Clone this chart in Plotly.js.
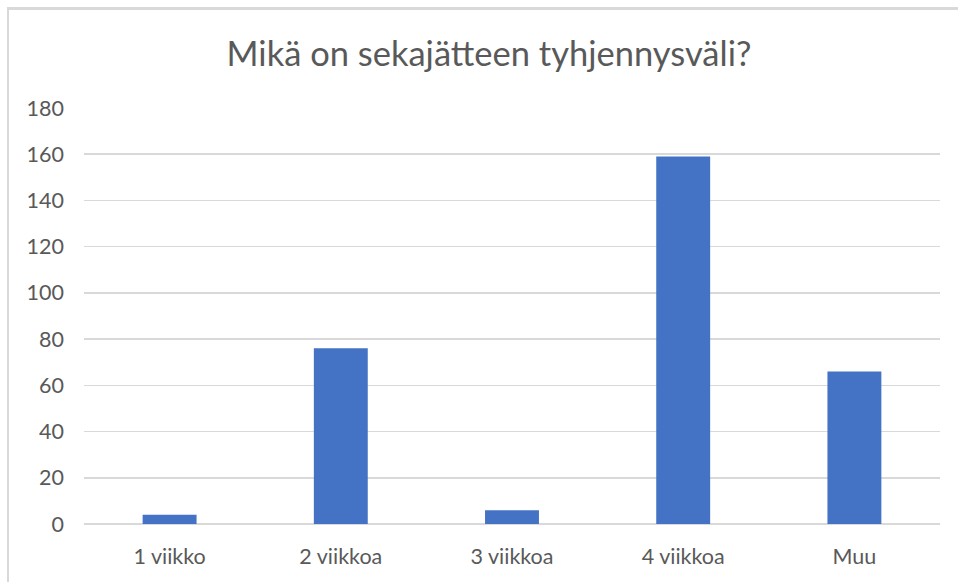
<!DOCTYPE html>
<html>
<head>
<meta charset="utf-8">
<script src="https://cdn.plot.ly/plotly-3.0.1.min.js"></script>
<style>
  html, body { margin: 0; padding: 0; background: #fff; overflow: hidden; }
  #wrap { position: relative; width: 958px; height: 582px; overflow: hidden; }
  #chart { position: absolute; left: 0; top: 0; width: 958px; height: 582px; }
  #frame { position: absolute; left: 7px; top: 7px; width: 1100px; height: 1100px;
           border-left: 2px solid #d9d9d9; border-top: 3px solid #d9d9d9; pointer-events: none; }
</style>
</head>
<body>
<div id="wrap">
  <div id="chart"></div>
  <div id="frame"></div>
</div>
<script>
const chartTitle = "Mikä on sekajätteen tyhjennysväli?";
const categories = ["1 viikko", "2 viikkoa", "3 viikkoa", "4 viikkoa", "Muu"];
const counts = [4, 76, 6, 159, 66];
const yTicks = [0, 20, 40, 60, 80, 100, 120, 140, 160, 180];

const fontFamily = "Lato, 'Open Sans', sans-serif";
const textColor = "#595959";

const data = [{
  type: "bar",
  x: categories,
  y: counts,
  marker: { color: "#4472C4" },
  hoverinfo: "x+y"
}];

const layout = {
  width: 958,
  height: 582,
  margin: { l: 84, r: 18, t: 108, b: 58, pad: 0 },
  paper_bgcolor: "#ffffff",
  plot_bgcolor: "#ffffff",
  showlegend: false,
  bargap: 0.685,
  font: { family: fontFamily, color: textColor },
  title: {
    text: chartTitle,
    font: { family: fontFamily, size: 34.5, color: textColor },
    x: 489 / 958,
    xref: "container",
    xanchor: "center",
    y: 1 - 54 / 582,
    yref: "container",
    yanchor: "middle"
  },
  xaxis: {
    type: "category",
    showgrid: false,
    zeroline: false,
    showline: false,
    ticks: "",
    ticklabelstandoff: 17,
    tickfont: { family: fontFamily, size: 21.5, color: textColor }
  },
  yaxis: {
    range: [0, 180],
    tickvals: yTicks,
    ticktext: yTicks.map(String),
    showgrid: true,
    gridcolor: "#d9d9d9",
    gridwidth: 1.5,
    zeroline: true,
    zerolinecolor: "#d9d9d9",
    zerolinewidth: 2,
    showline: false,
    ticks: "",
    ticklabelstandoff: 19,
    tickfont: { family: fontFamily, size: 21.5, color: textColor }
  }
};

Plotly.newPlot("chart", data, layout, { displayModeBar: false, staticPlot: true });
</script>
</body>
</html>
